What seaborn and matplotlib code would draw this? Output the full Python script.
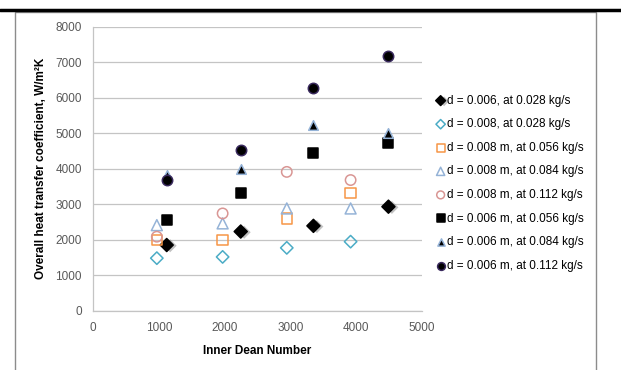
import matplotlib
matplotlib.use("Agg")
import matplotlib.pyplot as plt
import matplotlib.patheffects as pe
from matplotlib.lines import Line2D
from matplotlib.patches import Rectangle
import seaborn as sns
import pandas as pd

# ---- data ----
dean_006 = [1120, 2245, 3350, 4490]
dean_008 = [970, 1970, 2945, 3915]

u_006_028 = [1850, 2230, 2390, 2930]
u_008_028 = [1480, 1515, 1770, 1945]
u_008_056 = [1995, 2000, 2600, 3320]
u_008_084 = [2410, 2460, 2880, 2880]
u_008_112 = [2085, 2740, 3910, 3680]
u_006_056 = [2555, 3305, 4430, 4715]
u_006_084 = [3820, 3990, 5230, 5000]
u_006_112 = [3680, 4525, 6265, 7175]

labels = [
    "d = 0.006, at 0.028 kg/s",
    "d = 0.008, at 0.028 kg/s",
    "d = 0.008 m, at 0.056 kg/s",
    "d = 0.008 m, at 0.084 kg/s",
    "d = 0.008 m, at 0.112 kg/s",
    "d = 0.006 m, at 0.056 kg/s",
    "d = 0.006 m, at 0.084 kg/s",
    "d = 0.006 m, at 0.112 kg/s",
]
x_ticks = [0, 1000, 2000, 3000, 4000, 5000]
y_ticks = [0, 1000, 2000, 3000, 4000, 5000, 6000, 7000, 8000]

series = [
    (dean_006, u_006_028, labels[0], "D", "black", "black", 44),
    (dean_008, u_008_028, labels[1], "D", "none", "#4bacc6", 40),
    (dean_008, u_008_056, labels[2], "s", "none", "#f79646", 56),
    (dean_008, u_008_084, labels[3], "^", "none", "#95b3d7", 62),
    (dean_008, u_008_112, labels[4], "o", "none", "#d99694", 56),
    (dean_006, u_006_056, labels[5], "s", "black", "black", 56),
    (dean_006, u_006_084, labels[6], "^", "black", "#95b3d7", 48),
    (dean_006, u_006_112, labels[7], "o", "black", "#3a2a5e", 56),
]

sns.set_theme(style="white")
plt.rcParams['font.family'] = ['Liberation Sans', 'DejaVu Sans']

fig = plt.figure(figsize=(6.21, 3.70), dpi=100)
ax = fig.add_axes([93 / 621, 1 - 310.7 / 370, (422 - 93) / 621, (310.7 - 26.7) / 370])

for xs, ys, lab, mk, fc, ec, sz in series:
    df = pd.DataFrame({"Dean": xs, "U": ys})
    sns.scatterplot(data=df, x="Dean", y="U", ax=ax, marker=mk, s=sz,
                    facecolor=fc, edgecolor=ec, linewidth=1.1, label=lab, zorder=3)

# shadow for the black diamonds
coll = ax.collections[0]
coll.set_path_effects([pe.SimplePatchShadow(offset=(2.5, -0.5), shadow_rgbFace="#777777", alpha=0.45),
                       pe.Normal()])

ax.set_xlim(0, 5000)
ax.set_ylim(0, 8000)
ax.set_xticks(x_ticks)
ax.set_yticks(y_ticks)
ax.tick_params(axis="both", length=0, labelsize=8.5, colors="#595959", pad=8)
ax.yaxis.grid(True, color="#c4c4c4", linewidth=0.9)
ax.xaxis.grid(False)
for s in ["top", "right"]:
    ax.spines[s].set_visible(False)
for s in ["left", "bottom"]:
    ax.spines[s].set_color("#c4c4c4")
    ax.spines[s].set_linewidth(0.9)

ax.set_xlabel("Inner Dean Number", fontsize=8.5, fontweight="bold", color="black", labelpad=8)
ax.set_ylabel("Overall heat transfer coefficient, W/m²K", fontsize=8.5, fontweight="bold",
              color="black", labelpad=6)

leg = ax.legend(loc="upper left", bbox_to_anchor=(430 / 621, 1 - 90 / 370),
                bbox_transform=fig.transFigure, frameon=False, fontsize=8.5,
                handletextpad=0.05, handlelength=1.0, labelspacing=0.98,
                borderaxespad=0, markerscale=0.75)
for t in leg.get_texts():
    t.set_color("black")

# page decoration: thick top rule and chart frame
fig.add_artist(Line2D([0, 1], [1 - 9.5 / 370, 1 - 9.5 / 370], color="black", linewidth=2.5,
                      transform=fig.transFigure))
fig.add_artist(Rectangle((15 / 621, -0.05), (596 - 15) / 621, 1.05 - 12 / 370,
                         transform=fig.transFigure, fill=False, edgecolor="#8c8c8c",
                         linewidth=1.0))

fig.savefig("out.png", dpi=100)
